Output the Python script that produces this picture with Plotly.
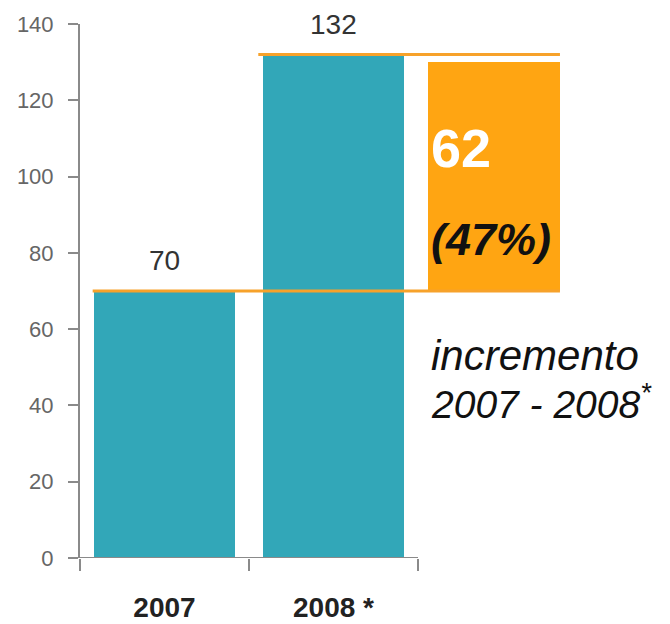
import plotly.graph_objects as go

# ---- data ----
years = ["2007", "2008 *"]
values = [70, 132]
increment = 62
increment_pct = "47%"
orange_bottom = 70
orange_top = 130
y_ticks = [0, 20, 40, 60, 80, 100, 120, 140]

TEAL = "#32A7B8"
ORANGE = "#FFA512"
LINE_OR = "#F7A22A"
GRAY = "#8a8a8a"
FONT = "Liberation Sans, Arial, sans-serif"

xpos = list(range(len(years)))
bar_w = 0.83
or_x = 1.95
or_w = 0.78

fig = go.Figure()

fig.add_trace(go.Bar(x=xpos, y=values, width=bar_w, marker=dict(color=TEAL, line=dict(width=0)),
                     hoverinfo="skip", showlegend=False))
fig.add_trace(go.Bar(x=[or_x], y=[orange_top - orange_bottom], base=[orange_bottom], width=or_w,
                     marker=dict(color=ORANGE, line=dict(width=0)), hoverinfo="skip", showlegend=False))

# reference lines at 70 and 132
right_edge = or_x + or_w / 2
fig.add_trace(go.Scatter(x=[xpos[0] - bar_w / 2 - 0.01, right_edge], y=[values[0], values[0]], mode="lines",
                         line=dict(color=LINE_OR, width=3), hoverinfo="skip", showlegend=False, cliponaxis=False))
fig.add_trace(go.Scatter(x=[xpos[1] - bar_w / 2 - 0.03, right_edge], y=[values[1], values[1]], mode="lines",
                         line=dict(color=LINE_OR, width=3), hoverinfo="skip", showlegend=False, cliponaxis=False))

# x axis line (only under the two categories)
fig.add_shape(type="line", xref="x", yref="y", x0=-0.5, x1=1.5, y0=0, y1=0,
              line=dict(color=GRAY, width=2), layer="above")

# value labels
for xv, v in zip(xpos, values):
    fig.add_annotation(x=xv, y=v, text=str(v), showarrow=False, yanchor="bottom", yshift=13,
                       font=dict(family=FONT, size=28, color="#333333"))

left_txt = 1.565
fig.add_annotation(x=left_txt, y=107.5, text=f"<b>{increment}</b>", showarrow=False, xanchor="left",
                   font=dict(family=FONT, size=54, color="white"))
fig.add_annotation(x=left_txt, y=83.5, text=f"<b><i>({increment_pct})</i></b>", showarrow=False, xanchor="left",
                   font=dict(family=FONT, size=45, color="#111111"))
fig.add_annotation(x=left_txt, y=53.2, text="<i>incremento</i>", showarrow=False, xanchor="left",
                   font=dict(family=FONT, size=42, color="#111111"))
fig.add_annotation(x=left_txt, y=41, text="<i>2007 - 2008<sup>*</sup></i>", showarrow=False, xanchor="left",
                   font=dict(family=FONT, size=39, color="#111111"))

fig.update_layout(
    width=662, height=616,
    margin=dict(l=72, r=83, t=16, b=66, autoexpand=False),
    paper_bgcolor="white", plot_bgcolor="white",
    bargap=0, barmode="overlay",
    xaxis=dict(range=[-0.5, 2.5], tickmode="array", tickvals=xpos, ticktext=[f"<b>{y}</b>" for y in years],
               ticks="", showline=False, showgrid=False, zeroline=False, ticklabelstandoff=30, automargin=False,
               tickfont=dict(family=FONT, size=28, color="#222222"),
               minor=dict(tickmode="array", tickvals=[-0.5, 0.5, 1.5], ticks="outside", ticklen=12,
                          tickwidth=2, tickcolor=GRAY, showgrid=False)),
    yaxis=dict(range=[0, 140], tickmode="array", tickvals=y_ticks, ticks="outside", ticklen=10, tickwidth=2,
               tickcolor=GRAY, showline=True, linecolor=GRAY, linewidth=2, showgrid=False, zeroline=False,
               ticklabelstandoff=10, automargin=False, tickfont=dict(family=FONT, size=22, color="#666666")),
)

fig.write_html("out.html")
